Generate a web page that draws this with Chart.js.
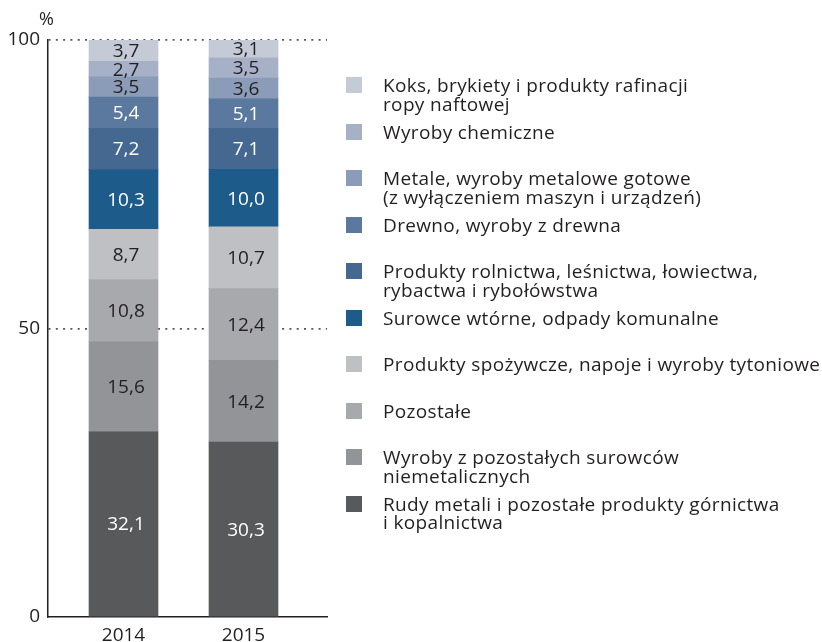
<!DOCTYPE html>
<html lang="pl">
<head>
<meta charset="utf-8">
<title>Struktura przewozów</title>
<script src="https://cdn.jsdelivr.net/npm/chart.js@4.4.1/dist/chart.umd.min.js"></script>
<style>
  html, body { margin: 0; padding: 0; background: #fff; }
  #wrap { position: relative; width: 822px; height: 642px; overflow: hidden; }
  #chart { position: absolute; left: 0; top: 0; }
  #legend { position: absolute; left: 0; top: 0; width: 822px; height: 642px; pointer-events: none;
            font-family: "Open Sans", sans-serif; font-size: 19px; line-height: 18.5px;
            letter-spacing: 0.35px; color: #231f20; }
  .leg-item { position: absolute; left: 346px; }
  .leg-box { position: absolute; left: 0; top: 0; width: 16px; height: 16px; }
  .leg-text { position: absolute; left: 37px; top: -1px; white-space: nowrap; }
</style>
</head>
<body>
<div id="wrap">
  <canvas id="chart" width="822" height="642"></canvas>
  <div id="legend"></div>
</div>
<script>
// Lata (kategorie)
const years = [2014, 2015];

// Serie od dołu słupka do góry (%)
const seriesNames = [
  ["Rudy metali i pozostałe produkty górnictwa", "i kopalnictwa"],
  ["Wyroby z pozostałych surowców", "niemetalicznych"],
  ["Pozostałe"],
  ["Produkty spożywcze, napoje i wyroby tytoniowe"],
  ["Surowce wtórne, odpady komunalne"],
  ["Produkty rolnictwa, leśnictwa, łowiectwa,", "rybactwa i rybołówstwa"],
  ["Drewno, wyroby z drewna"],
  ["Metale, wyroby metalowe gotowe", "(z wyłączeniem maszyn i urządzeń)"],
  ["Wyroby chemiczne"],
  ["Koks, brykiety i produkty rafinacji", "ropy naftowej"]
];
const rudy        = [32.1, 30.3];
const niemetal    = [15.6, 14.2];
const pozostale   = [10.8, 12.4];
const spozywcze   = [8.7, 10.7];
const surowce     = [10.3, 10.0];
const rolnictwo   = [7.2, 7.1];
const drewno      = [5.4, 5.1];
const metale      = [3.5, 3.6];
const chemiczne   = [2.7, 3.5];
const koks        = [3.7, 3.1];
const seriesValues = [rudy, niemetal, pozostale, spozywcze, surowce, rolnictwo, drewno, metale, chemiczne, koks];

// Oś Y
const yTicks = [0, 50, 100];

// Kolory serii (od dołu) i kolor etykiet w słupkach
const COLORS = ["#58595b", "#939497", "#a8a9ac", "#bfc0c3", "#1d5b8b",
                "#44688f", "#5b799e", "#8a9cb8", "#a6b1c8", "#c5cad7"];
const LABEL_COLORS = ["#ffffff", "#231f20", "#231f20", "#231f20", "#ffffff",
                      "#ffffff", "#ffffff", "#231f20", "#231f20", "#231f20"];

const INK = "#231f20";
const FONT = "'Open Sans', sans-serif";

// Wartości wewnątrz segmentów + znak % nad osią
const valueLabels = {
  id: "valueLabels",
  afterDatasetsDraw(chart) {
    const ctx = chart.ctx;
    ctx.save();
    ctx.font = "19px " + FONT;
    ctx.textAlign = "center";
    ctx.textBaseline = "middle";
    chart.data.datasets.forEach((ds, di) => {
      const meta = chart.getDatasetMeta(di);
      meta.data.forEach((bar, i) => {
        const p = bar.getCenterPoint();
        ctx.fillStyle = LABEL_COLORS[di];
        ctx.fillText(ds.data[i].toFixed(1).replace(".", ","), p.x + 2.5, p.y + 1);
      });
    });
    ctx.fillStyle = INK;
    ctx.font = "18px " + FONT;
    ctx.fillText("%", 46.5, 20);
    ctx.restore();
  }
};

const chart = new Chart(document.getElementById("chart"), {
  type: "bar",
  data: {
    labels: years,
    datasets: seriesValues.map((vals, i) => ({
      label: seriesNames[i].join(" "),
      data: vals,
      backgroundColor: COLORS[i],
      borderWidth: 0,
      barThickness: 69
    }))
  },
  options: {
    responsive: false,
    animation: false,
    devicePixelRatio: 1,
    layout: { padding: { top: 40, right: 495, left: 0, bottom: 0 } },
    plugins: { legend: { display: false }, tooltip: { enabled: false } },
    scales: {
      x: {
        type: "linear",
        stacked: true,
        offset: false,
        min: 2013.3708,
        max: 2015.6958,
        afterBuildTicks: s => { s.ticks = years.map(v => ({ value: v })); },
        afterFit: s => { s.height = 25; },
        grid: { display: false, drawTicks: false, offset: false },
        border: { display: true, color: INK, width: 1.5 },
        ticks: { color: INK, font: { family: FONT, size: 19 }, padding: 7,
                 callback: v => String(v) }
      },
      y: {
        stacked: true,
        min: 0,
        max: 100,
        afterBuildTicks: s => { s.ticks = yTicks.map(v => ({ value: v })); },
        afterFit: s => { s.width = 48; },
        grid: {
          drawTicks: false,
          color: c => c.tick.value === 0 ? "rgba(0,0,0,0)" : "#555",
          lineWidth: 1.8
        },
        // in v4 border.dash styles the grid lines
        border: { display: true, color: INK, width: 1.5, dash: [2, 5.3] },
        ticks: { color: INK, font: { family: FONT, size: 19 }, padding: 8 }
      }
    }
  },
  plugins: [valueLabels]
});

// Legenda HTML: od góry słupka (ostatnia seria) w dół
const legend = document.getElementById("legend");
for (let k = 0; k < seriesNames.length; k++) {
  const i = seriesNames.length - 1 - k;
  const item = document.createElement("div");
  item.className = "leg-item";
  item.style.top = (77 + k * 46.5) + "px";
  const box = document.createElement("div");
  box.className = "leg-box";
  box.style.background = COLORS[i];
  const txt = document.createElement("div");
  txt.className = "leg-text";
  txt.innerHTML = seriesNames[i].join("<br>");
  item.append(box, txt);
  legend.appendChild(item);
}
</script>
</body>
</html>
